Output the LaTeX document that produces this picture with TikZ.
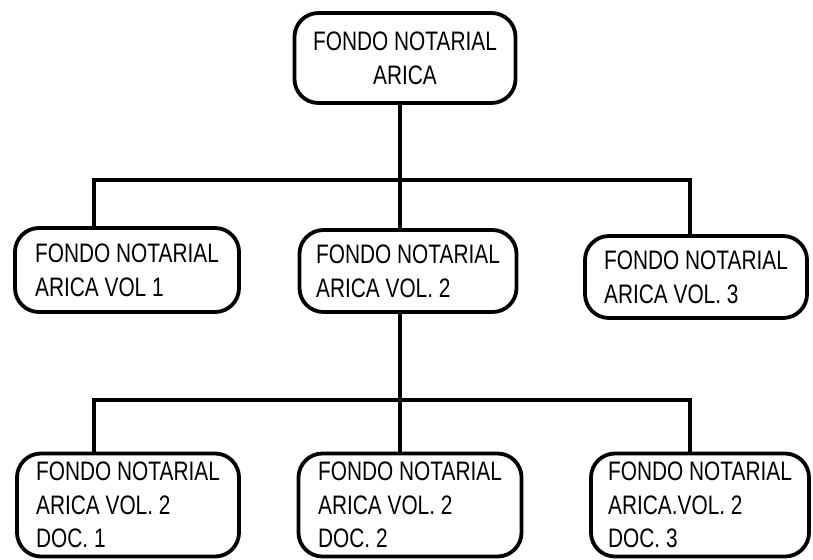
\documentclass[tikz,border=0pt]{standalone}
\usepackage{fontspec}
\setmainfont{Liberation Sans}[FakeStretch=0.78]
\usetikzlibrary{positioning,calc}

\begin{document}
\begin{tikzpicture}[x=0.025cm, y=-0.025cm]
  \tikzset{fondo/.style={
      draw, line width=2.7pt, rounded corners=0.6cm, align=left, inner sep=0pt,
      font=\fontsize{19}{24}\selectfont
    },
    vol/.style={fondo, minimum width=5.6cm, minimum height=2.1cm},
    doc/.style={fondo, minimum width=5.55cm, minimum height=2.575cm},
    link/.style={line width=2.7pt}
  }

  \useasboundingbox (0,0) rectangle (813,559);

  \node[fondo, align=center, minimum width=5.525cm, minimum height=2.25cm] (F) at (405,58) {FONDO NOTARIAL\\ARICA};

  \node[vol] (V1) at (127,270) {FONDO NOTARIAL\\ARICA VOL 1};
  \node[vol, minimum width=5.425cm, minimum height=2.05cm] (V2) at (408,271) {FONDO NOTARIAL\\ARICA VOL. 2};
  \node[vol, minimum width=5.55cm, minimum height=2.05cm] (V3) at (696,277) {FONDO NOTARIAL\\ARICA VOL. 3};

  \node[doc] (D1) at (128,505) {FONDO NOTARIAL\\ARICA VOL. 2\\DOC. 1};
  \node[doc, minimum width=5.575cm] (D2) at (410,505) {FONDO NOTARIAL\\ARICA VOL. 2\\DOC. 2};
  \node[doc, minimum width=5.45cm] (D3) at (700,505) {FONDO NOTARIAL\\ARICA.VOL. 2\\DOC. 3};

  % buses
  \coordinate (b1) at (400,180);
  \coordinate (b1l) at (94,180);
  \coordinate (b1r) at (690,180);
  \coordinate (b2) at (400,400);
  \coordinate (b2l) at (94,400);
  \coordinate (b2r) at (690,400);

  \draw[link] (F.south -| b1) -- (b1);
  \draw[link] (b1l |- V1.north) -- (b1l) -- (b1r) -- (b1r |- V3.north);
  \draw[link] (b1) -- (b1 |- V2.north);

  \draw[link] (V2.south -| b2) -- (b2);
  \draw[link] (b2l |- D1.north) -- (b2l) -- (b2r) -- (b2r |- D3.north);
  \draw[link] (b2) -- (b2 |- D2.north);
\end{tikzpicture}
\end{document}
